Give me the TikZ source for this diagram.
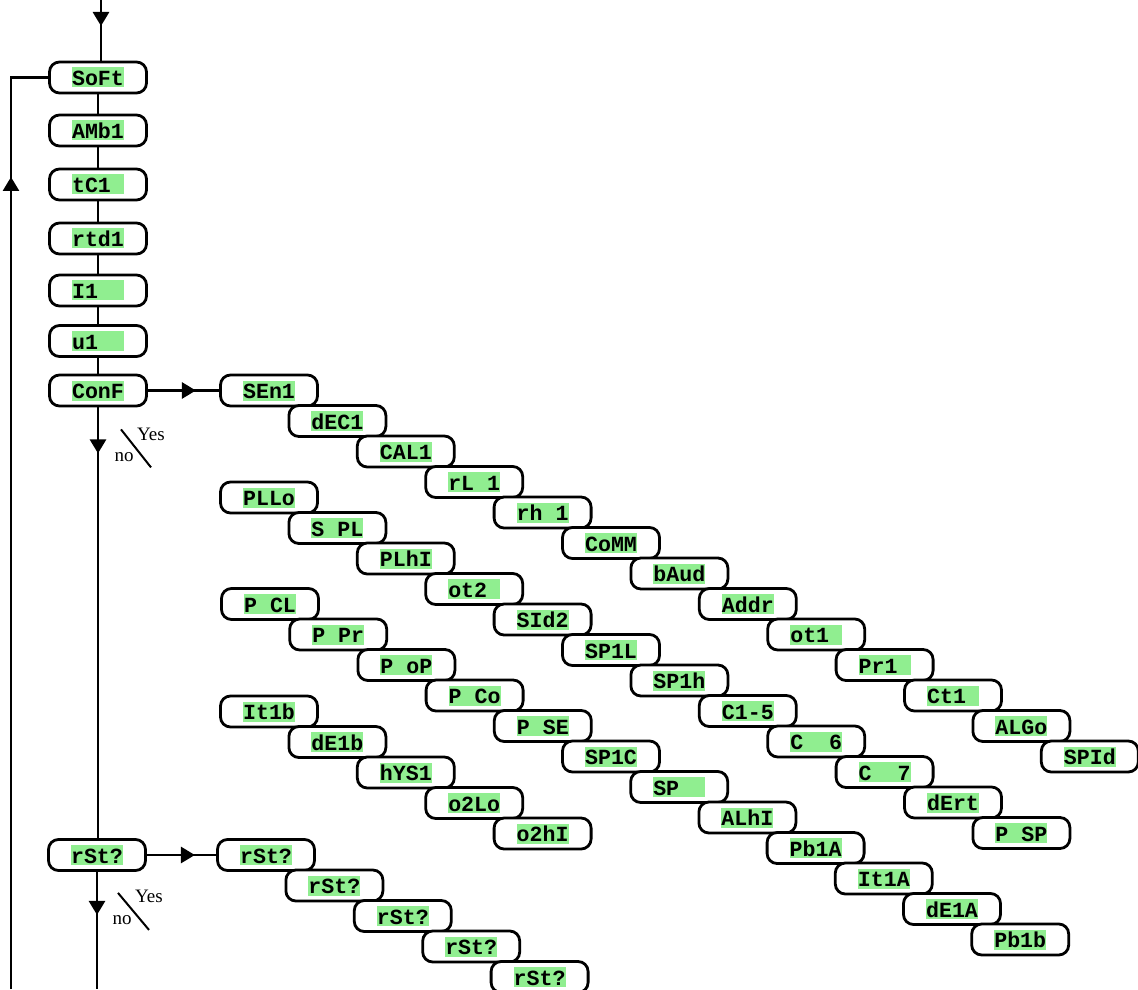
\documentclass[tikz,border=0pt]{standalone}
\usepackage{fontspec}
\setmainfont{Liberation Serif}
\setmonofont{Liberation Mono}
\usetikzlibrary{arrows.meta,decorations.markings}
\definecolor{hlgreen}{HTML}{90EE90}
\newcommand\menutext[1]{{\setlength{\fboxsep}{0pt}\colorbox{hlgreen}{\rule[-1pt]{0pt}{10pt}#1}}}
\tikzset{
  menubox/.style={draw, line width=1.4pt, rounded corners=5pt, fill=white,
    minimum width=48.5pt, minimum height=15.5pt, inner sep=0pt,
    font=\ttfamily\bfseries\fontsize{10.8}{12}\selectfont},
  flow/.style={line width=1.4pt},
  midarrow/.style={postaction={decorate}, decoration={markings,
    mark=at position #1 with {\arrow{Triangle[length=7pt,width=8pt]}}}},
  choice/.style={font=\fontsize{9.5}{10}\selectfont, inner sep=0pt}
}

\begin{document}
\begin{tikzpicture}[x=0.5pt, y=-0.5pt]
\useasboundingbox (0,0) rectangle (1138,989);

% main menu column
\foreach \name/\txt/\ypos in {soft/SoFt/77.5, amb1/AMb1/130.5, tc1/tC1~/184.5,
    rtd1/rtd1/238.5, i1/I1~~/290.5, u1/u1~~/341, conf/ConF/390.5}
  \node[menubox] (\name) at (98,\ypos) {\menutext{\txt}};
\node[menubox] (rst) at (97,855) {\menutext{rSt?}};

\foreach \a/\b in {soft/amb1, amb1/tc1, tc1/rtd1, rtd1/i1, i1/u1, u1/conf}
  \draw[flow] (\a) -- (\b);

\coordinate (entry) at (101,0);
\coordinate (loopbot) at (11,989);
\coordinate (exit) at (97,989);
\draw[flow, midarrow=13pt] (entry) -- (entry |- soft.north);
\draw[flow, midarrow=406pt] (loopbot) -- (loopbot |- soft.west) -- (soft.west);

% configuration chains
\foreach \txt [count=\i from 0] in {SEn1,dEC1,CAL1,rL~1,rh~1,CoMM,bAud,Addr,ot1~,Pr1~,Ct1~,ALGo,SPId}
  \node[menubox] (cfa\i) at (269+68.4*\i, 390.5+30.5*\i) {\menutext{\txt}};
\foreach \txt [count=\i from 0] in {PLLo,S~PL,PLhI,ot2~,SId2,SP1L,SP1h,C1-5,C~~6,C~~7,dErt,P~SP}
  \node[menubox] (cfb\i) at (269+68.4*\i, 497.5+30.5*\i) {\menutext{\txt}};
\foreach \txt [count=\i from 0] in {P~CL,P~Pr,P~oP,P~Co,P~SE,SP1C,SP~~,ALhI,Pb1A,It1A,dE1A,Pb1b}
  \node[menubox] (cfc\i) at (270+68.2*\i, 604+30.5*\i) {\menutext{\txt}};
\foreach \txt [count=\i from 0] in {It1b,dE1b,hYS1,o2Lo,o2hI}
  \node[menubox] (cfd\i) at (269+68.4*\i, 711.5+30.5*\i) {\menutext{\txt}};

% reset chain
\foreach \i in {0,...,4}
  \node[menubox] (rsa\i) at (266+68.4*\i, 855+30.5*\i) {\menutext{rSt?}};

\draw[flow, midarrow=24pt] (conf.east) -- (cfa0.west);
\draw[flow, midarrow=23pt] (conf.south) -- (conf.south |- rst.north);
\draw[flow, midarrow=24pt] (rst.east) -- (rsa0.west);
\draw[flow, midarrow=21.5pt] (rst.south) -- (exit);

% yes / no switches
\draw[line width=1pt] ([shift={(23,22)}]conf.south) -- ++(30,38);
\node[choice] (confyes) at ([shift={(53,27)}]conf.south) {Yes};
\node[choice] (confno) at ([shift={(26,50)}]conf.south) {no};
\draw[line width=1pt] ([shift={(21,21)}]rst.south) -- ++(31,37);
\node[choice] (rstyes) at ([shift={(52,24)}]rst.south) {Yes};
\node[choice] (rstno) at ([shift={(25,48)}]rst.south) {no};
\end{tikzpicture}
\end{document}
